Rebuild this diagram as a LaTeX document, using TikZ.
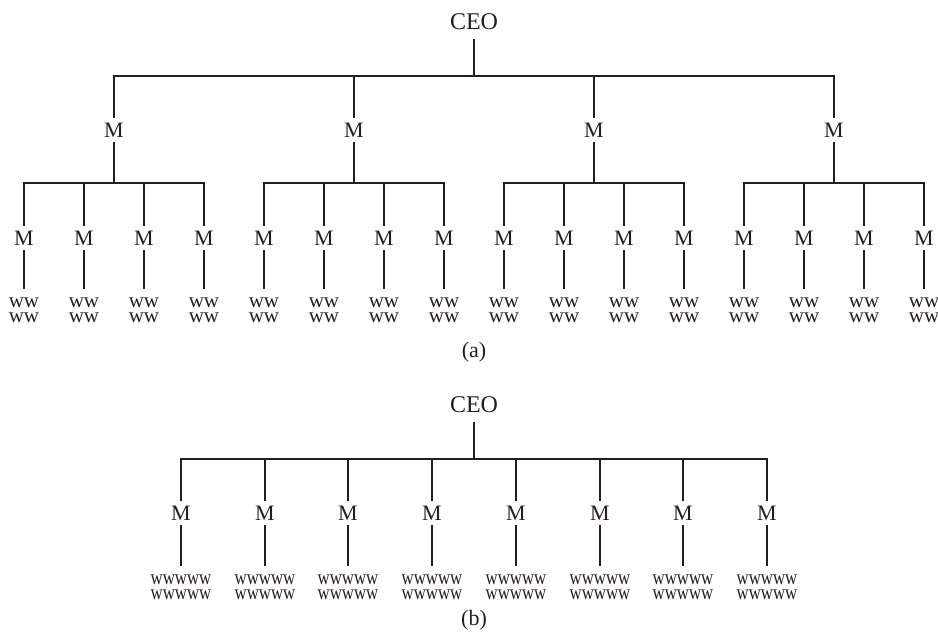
\documentclass[tikz,border=0pt]{standalone}
\usepackage{fontspec}
\setmainfont{Liberation Serif}
\newfontfamily\narrowserif[FakeStretch=0.8]{Liberation Serif}
\definecolor{ink}{HTML}{231F20}
\begin{document}
\begin{tikzpicture}[x=1pt,y=-1pt,
  link/.style={line width=2.5pt, draw=ink},
  caption/.style={font=\fontsize{22}{26}\selectfont, text=ink, inner sep=0pt},
  mgr/.style={font=\fontsize{22}{26}\selectfont, text=ink, inner xsep=2pt, inner ysep=5pt},
  boss/.style={font=\fontsize{24}{28}\selectfont, text=ink, inner ysep=9pt},
  crew/.style={font=\fontsize{21}{15}\selectfont, text=ink, align=center, inner ysep=9pt},
  crewnarrow/.style={crew, font=\narrowserif\fontsize{21}{15}\selectfont},
]
\useasboundingbox (0,0) rectangle (938,638);

% ---- (a): CEO, four managers, sixteen sub-managers ----
\node[boss] (ceoA) at (474,22) {CEO};
\coordinate (barA) at (474,76);
\draw[link] (ceoA) -- (barA);
\foreach \g in {1,...,4} {
  \pgfmathsetmacro\gx{114+240*(\g-1)}
  \node[mgr] (mA\g) at (\gx,130) {M};
  \draw[link] (mA\g) |- (barA);
  \coordinate (barA\g) at (\gx,183);
  \draw[link] (mA\g) -- (barA\g);
  \foreach \k in {1,...,4} {
    \pgfmathsetmacro\kx{\gx-90+60*(\k-1)}
    \node[mgr] (sA\g\k) at (\kx,238) {M};
    \draw[link] (sA\g\k) |- (barA\g);
    \node[crew] (wA\g\k) at (\kx,310.5) {ww\\ww};
    \draw[link] (sA\g\k) -- (wA\g\k);
  }
}
\node[caption] (capA) at (474,352) {(a)};

% ---- (b): CEO and eight managers ----
\node[boss] (ceoB) at (474,405) {CEO};
\coordinate (barB) at (474,459);
\draw[link] (ceoB) -- (barB);
\foreach \ix [count=\i] in {181,265,348,432,516,600,683,767} {
  \node[mgr] (mB\i) at (\ix,513) {M};
  \draw[link] (mB\i) |- (barB);
  \node[crewnarrow] (wB\i) at (\ix,587.5) {wwwww\\wwwww};
  \draw[link] (mB\i) -- (wB\i);
}
\node[caption] (capB) at (474,620) {(b)};
\end{tikzpicture}
\end{document}
